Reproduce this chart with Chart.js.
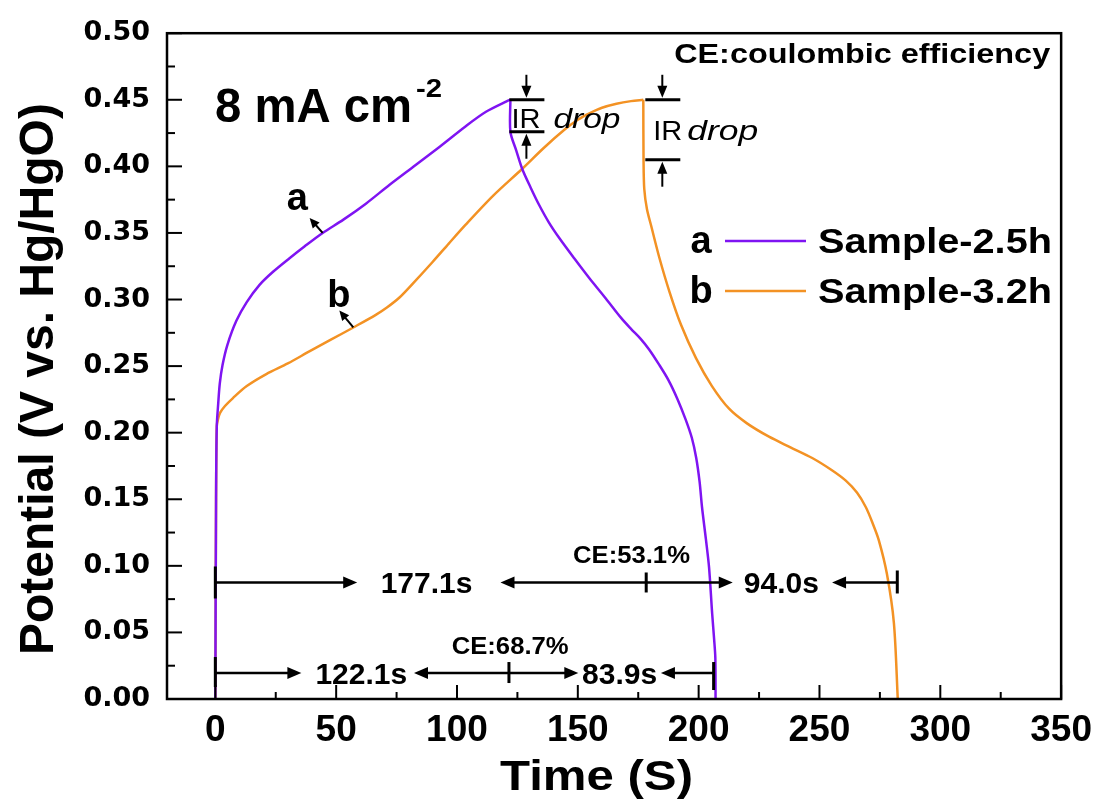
<!DOCTYPE html>
<html>
<head>
<meta charset="utf-8">
<script src="https://cdn.jsdelivr.net/npm/chart.js@4/dist/chart.umd.min.js"></script>
<style>
html,body{margin:0;padding:0;background:#fff;overflow:hidden;}
#wrap{width:1102px;height:805px;}
</style>
</head>
<body>
<div id="wrap"><canvas id="c" width="1102" height="805"></canvas></div>
<script>
// ---------------- data ----------------
const seriesTags = ['a', 'b'];
const seriesLabels = ['Sample-2.5h', 'Sample-3.2h'];
const seriesColors = ['#7F14F2', '#F39224'];

// Sample-2.5h (a): charge, then IR drop + discharge
const sampleA_charge_t = [0, 0.3, 0.6, 1.2, 1.85, 3, 5, 8.7, 13, 18.3, 24, 30.7, 37, 44.4, 53, 62.3, 72, 82.9, 93, 103.5, 112, 120.7, 122.1];
const sampleA_charge_v = [0, 0.15, 0.205, 0.222, 0.237, 0.251, 0.266, 0.284, 0.298, 0.311, 0.321, 0.331, 0.340, 0.350, 0.360, 0.372, 0.386, 0.401, 0.415, 0.430, 0.441, 0.449, 0.450];
const sampleA_dis_t = [122.1, 122.1, 124.5, 127, 130.5, 134, 138, 142.4, 148.5, 154.8, 161.5, 168, 172, 176, 179.5, 183.5, 187.5, 191.3, 194.6, 197.2, 199,
  200.4, 201.4, 203, 204.3, 205.6, 206.4, 206.9, 207];
const sampleA_dis_v = [0.450, 0.426, 0.412, 0.398, 0.384, 0.371, 0.358, 0.346, 0.331, 0.316, 0.301, 0.286, 0.278, 0.2705, 0.2625, 0.2515, 0.2395, 0.225, 0.210, 0.196, 0.181,
  0.163, 0.144, 0.120, 0.099, 0.064, 0.045, 0.031, 0.0];

// Sample-3.2h (b)
const sampleB_charge_t = [0, 0.3, 0.6, 1.1, 2, 4, 7.3, 13, 21.1, 30, 38.9, 48, 57.1, 66.4, 71, 76.2, 82, 89.8, 96.6, 103.5, 115, 126.9, 136, 144.8, 150, 155, 160, 166, 172, 177.1];
const sampleB_charge_v = [0, 0.15, 0.205, 0.210, 0.215, 0.220, 0.226, 0.235, 0.244, 0.252, 0.261, 0.270, 0.279, 0.2885, 0.294, 0.3015, 0.3125, 0.328, 0.342, 0.356, 0.378, 0.398, 0.414, 0.428, 0.435, 0.440, 0.444, 0.447, 0.449, 0.450];
const sampleB_dis_t = [177.1, 177.2, 177.5, 178.6, 180.4, 183.8, 187.9, 192.7, 198.9, 205.5, 212.6, 220, 229.1, 238, 247, 255, 260.9, 265.5, 269.2, 272, 274.6, 277.9, 280.8, 282.4];
const sampleB_dis_v = [0.450, 0.405, 0.383, 0.368, 0.355, 0.331, 0.306, 0.281, 0.256, 0.235, 0.218, 0.207, 0.197, 0.189, 0.181, 0.172, 0.164, 0.155, 0.144, 0.132, 0.119, 0.094, 0.057, 0.0];

const xTicks = [0, 50, 100, 150, 200, 250, 300, 350];
const yTicks = [0, 0.05, 0.10, 0.15, 0.20, 0.25, 0.30, 0.35, 0.40, 0.45, 0.50];
const xMinorTicks = [25, 75, 125, 175, 225, 275, 325];
const yMinorTicks = [0.025, 0.075, 0.125, 0.175, 0.225, 0.275, 0.325, 0.375, 0.425, 0.475];

// annotation values (data units)
const peakTimes = [122.1, 177.1];
const irBottoms = [0.426, 0.405];
const rowLevels = [0.0875, 0.0195];
const rowBars = [[0, 178.3, 282.2], [0, 121.5, 206.2]];
const rowTips = [[58.7, 118.0, 214.1, 255.2], [35.6, 82.2, 150.2, 184.4]];
const rowTexts = [['177.1s', '94.0s'], ['122.1s', '83.9s']];
const rowTextAt = [[87.4, 234.2], [60.4, 167.3]];
const ceTexts = ['CE:53.1%', 'CE:68.7%'];
const ceAt = [172.2, 122.0];
const curveLabelAt = [[44.4, 0.350], [57.1, 0.279]];

// ---------------- helpers ----------------
const FF = "'Liberation Sans', Arial, sans-serif";
function txt(ctx, s, x, y, font, align, width, baseline) {
  ctx.save();
  ctx.font = font;
  ctx.textBaseline = baseline || 'alphabetic';
  ctx.textAlign = 'left';
  const w = ctx.measureText(s).width;
  const sx = width ? width / w : 1;
  const rw = w * sx;
  let x0 = x;
  if (align === 'center') x0 = x - rw / 2;
  else if (align === 'right') x0 = x - rw;
  ctx.translate(x0, y);
  ctx.scale(sx, 1);
  ctx.fillStyle = '#000';
  ctx.fillText(s, 0, 0);
  ctx.restore();
}
function line(ctx, x1, y1, x2, y2, lw) {
  ctx.beginPath(); ctx.lineWidth = lw || 2.5; ctx.strokeStyle = '#000';
  ctx.moveTo(x1, y1); ctx.lineTo(x2, y2); ctx.stroke();
}
function head(ctx, tx, ty, dx, dy, len, hw) {
  const L = Math.hypot(dx, dy); const ux = dx / L, uy = dy / L;
  const bx = tx - ux * len, by = ty - uy * len;
  ctx.beginPath(); ctx.fillStyle = '#000';
  ctx.moveTo(tx, ty);
  ctx.lineTo(bx - uy * hw, by + ux * hw);
  ctx.lineTo(bx + uy * hw, by - ux * hw);
  ctx.closePath(); ctx.fill();
}
function arrow(ctx, x1, y1, x2, y2, len, hw, lw) {
  const L = Math.hypot(x2 - x1, y2 - y1);
  const ux = (x2 - x1) / L, uy = (y2 - y1) / L;
  line(ctx, x1, y1, x2 - ux * len * 0.6, y2 - uy * len * 0.6, lw);
  head(ctx, x2, y2, x2 - x1, y2 - y1, len, hw);
}

const decor = {
  id: 'decor',
  afterDatasetsDraw(chart) {
    const ctx = chart.ctx, xs = chart.scales.x, ys = chart.scales.y, ca = chart.chartArea;
    const X = v => xs.getPixelForValue(v), Y = v => ys.getPixelForValue(v);
    ctx.save();
    // frame
    ctx.lineWidth = 2.5; ctx.strokeStyle = '#000';
    ctx.strokeRect(ca.left, ca.top, ca.right - ca.left, ca.bottom - ca.top);
    // inward ticks
    xTicks.forEach(v => line(ctx, X(v), ca.bottom, X(v), ca.bottom - 14, 2));
    xMinorTicks.forEach(v => line(ctx, X(v), ca.bottom, X(v), ca.bottom - 7, 2));
    yTicks.forEach(v => line(ctx, ca.left, Y(v), ca.left + 15, Y(v), 2));
    yMinorTicks.forEach(v => line(ctx, ca.left, Y(v), ca.left + 8, Y(v), 2));

    // axis titles
    ctx.save();
    ctx.translate(53, (ca.top + ca.bottom) / 2 + 13);
    ctx.rotate(-Math.PI / 2);
    ctx.font = 'bold 48px ' + FF; ctx.textAlign = 'center'; ctx.textBaseline = 'alphabetic'; ctx.fillStyle = '#000';
    ctx.fillText('Potential (V vs. Hg/HgO)', 0, 0);
    ctx.restore();
    txt(ctx, 'Time (S)', 596.5, 790, 'bold 42px ' + FF, 'center', 193);

    // current density label
    txt(ctx, '8 mA cm', 215, 122, 'bold 48px ' + FF, 'left', 197);
    txt(ctx, '-2', 416, 97, 'bold 26px ' + FF, 'left', 26);
    // CE legend text
    txt(ctx, 'CE:coulombic efficiency', ca.right - 11, 63, 'bold 28px ' + FF, 'right', 376);

    // legend
    const legY = [241, 291];
    seriesTags.forEach((tag, i) => {
      txt(ctx, tag, 701, legY[i] + 12, 'bold 38px ' + FF, 'center');
      ctx.beginPath(); ctx.strokeStyle = seriesColors[i]; ctx.lineWidth = 2.5;
      ctx.moveTo(725, legY[i]); ctx.lineTo(806, legY[i]); ctx.stroke();
      txt(ctx, seriesLabels[i], 818, legY[i] + 12, 'bold 35px ' + FF, 'left', 234);
    });

    // curve labels a / b with small arrows
    const lblOff = [[-36, -23], [-26, -20]];
    const tipOff = [[-13, -15], [-14, -17]];
    curveLabelAt.forEach((p, i) => {
      const px = X(p[0]), py = Y(p[1]);
      arrow(ctx, px, py, px + tipOff[i][0], py + tipOff[i][1], 10, 4.5, 2);
      txt(ctx, seriesTags[i], px + lblOff[i][0], py + lblOff[i][1], 'bold 38px ' + FF, 'left');
    });

    // IR drop markers
    peakTimes.forEach((t, i) => {
      const x0 = X(t) - 1, yTop = Y(0.45), yBot = Y(irBottoms[i]);
      const bs = i === 0 ? 0 : 3;
      const w = 35, ax = x0 + bs + 17;
      line(ctx, x0 + bs, yTop, x0 + bs + w, yTop, 3);
      line(ctx, x0 + bs, yBot, x0 + bs + w, yBot, 3);
      arrow(ctx, ax, yTop - 25, ax, yTop - 2, 12, 5, 2);
      arrow(ctx, ax, yBot + 27, ax, yBot + 2, 12, 5, 2);
      const base = i === 0 ? yBot - 4 : yTop + 40;
      txt(ctx, 'IR', x0 + (i === 0 ? 2 : 11), base, '27px ' + FF, 'left', 29);
      txt(ctx, 'drop', x0 + (i === 0 ? 44 : 45), base, 'italic 28px ' + FF, 'left', i === 0 ? 67 : 71);
    });

    // duration rows
    rowLevels.forEach((lv, r) => {
      const y = Y(lv);
      const b = rowBars[r].map(X), tp = rowTips[r].map(X);
      const bh = r === 0 ? [[16, 16], [10, 10], [12, 11]] : [[16, 14], [11, 10], [11, 17]];
      b.forEach((bx, k) => line(ctx, bx, y - bh[k][0], bx, y + bh[k][1], 3));
      arrow(ctx, b[0], y, tp[0], y, 14, 6, 2.5);
      arrow(ctx, b[1], y, tp[1], y, 14, 6, 2.5);
      arrow(ctx, b[1], y, tp[2], y, 14, 6, 2.5);
      arrow(ctx, b[2], y, tp[3], y, 14, 6, 2.5);
      rowTexts[r].forEach((s, k) => txt(ctx, s, X(rowTextAt[r][k]), y + 10.5, 'bold 30px ' + FF, 'center'));
      txt(ctx, ceTexts[r], X(ceAt[r]), y - 19, 'bold 23px ' + FF, 'center', 117);
    });
    ctx.restore();
  }
};

const mk = (ts, vs) => ts.map((t, i) => ({ x: t, y: vs[i] }));
const seg = (label, ts, vs, color) => ({
  label, data: mk(ts, vs), showLine: true, borderColor: color, borderWidth: 2.5,
  pointRadius: 0, pointHoverRadius: 0, tension: 0.3
});

new Chart(document.getElementById('c'), {
  type: 'scatter',
  data: {
    datasets: [
      seg(seriesLabels[0], sampleA_charge_t, sampleA_charge_v, seriesColors[0]),
      seg(seriesLabels[0], sampleA_dis_t, sampleA_dis_v, seriesColors[0]),
      seg(seriesLabels[1], sampleB_charge_t, sampleB_charge_v, seriesColors[1]),
      seg(seriesLabels[1], sampleB_dis_t, sampleB_dis_v, seriesColors[1])
    ]
  },
  options: {
    responsive: false, devicePixelRatio: 1, animation: false,
    layout: { autoPadding: false, padding: { top: 31, right: 37, left: 0, bottom: 0 } },
    plugins: { legend: { display: false }, tooltip: { enabled: false } },
    scales: {
      x: {
        type: 'linear', min: -20, max: 350,
        afterBuildTicks: s => { s.ticks = xTicks.map(v => ({ value: v })); },
        afterFit: s => { s.height = 106; },
        grid: { display: false, drawTicks: false }, border: { display: false },
        ticks: { padding: 10, color: '#000', font: { family: FF, weight: 'bold', size: 37 }, maxRotation: 0, autoSkip: false, callback: v => String(v) }
      },
      y: {
        type: 'linear', min: 0, max: 0.5,
        afterBuildTicks: s => { s.ticks = yTicks.map(v => ({ value: v })); },
        afterFit: s => { s.width = 167; },
        grid: { display: false, drawTicks: false }, border: { display: false },
        ticks: { padding: 17, color: '#000', font: { family: "'DejaVu Sans', sans-serif", weight: 'bold', size: 27 }, autoSkip: false, callback: v => Number(v).toFixed(2) }
      }
    }
  },
  plugins: [decor]
});
</script>
</body>
</html>
